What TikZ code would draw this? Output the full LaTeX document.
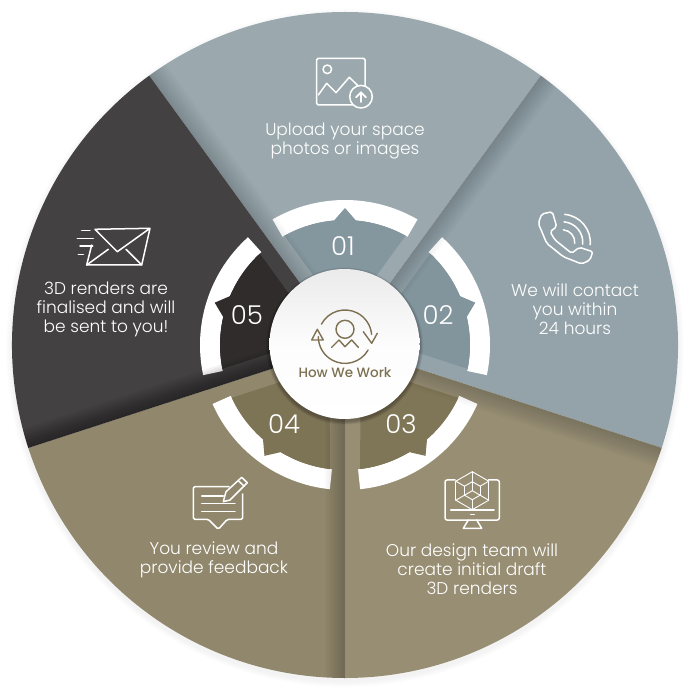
\documentclass[tikz,border=0pt]{standalone}
\usepackage{fontspec}
\setmainfont{Poppins}[UprightFont=* Light,BoldFont=* Medium]
\definecolor{secone}{HTML}{9BA9AE}
\definecolor{sectwo}{HTML}{94A3A9}
\definecolor{secthree}{HTML}{978E73}
\definecolor{secfour}{HTML}{90876D}
\definecolor{secfive}{HTML}{444142}
\definecolor{wedone}{HTML}{84969E}
\definecolor{wedtwo}{HTML}{82949C}
\definecolor{wedthree}{HTML}{7F7557}
\definecolor{wedfour}{HTML}{7D7355}
\definecolor{wedfive}{HTML}{2F2C2B}
\definecolor{brownline}{HTML}{7D7152}
\tikzset{
  imagepx/.style={shift={(-345,345)},y=-1pt},
  iconline/.style={draw=white,line width=1.5pt,line join=round,line cap=round},
  cubeline/.style={draw=white,line width=0.9pt,line join=round,line cap=round},
  brownicon/.style={draw=brownline,line width=1.4pt,line join=round,line cap=round},
  steptext/.style={text=white,align=center,font=\fontsize{17}{19}\selectfont},
  numtext/.style={text=white,font=\fontsize{26}{26}\selectfont}
}
\begin{document}
\begin{tikzpicture}[x=1pt,y=1pt]
    \useasboundingbox (-345,-355) rectangle (355,345);
    % faint shadow under the disc
    \foreach \r in {1,2,...,6}
        \fill[black,opacity=0.008] (0,-3) circle ({333+\r});

    % sectors, ring pieces and wedges, then the shadow of the neighbour
    \foreach \a/\secc/\wedc/\shad in {90/secone/wedone/0.015,18/sectwo/wedtwo/0.015,-54/secthree/wedthree/0.017,-126/secfour/wedfour/0.02,162/secfive/wedfive/0.045}{
        \fill[\secc] (0,0) -- (\a-36:333) arc[start angle=\a-36,end angle=\a+36,radius=333] -- cycle;
        \fill[white] (\a-30:145) arc[start angle=\a-30,end angle=\a+30,radius=145]
            -- (\a+30:125) arc[start angle=\a+30,end angle=\a-30,radius=125] -- cycle;
        \fill[\wedc] (\a:26) -- (\a-29:125) arc[start angle=\a-29,end angle=\a-5,radius=125]
            -- (\a:137) -- (\a+5:125) arc[start angle=\a+5,end angle=\a+29,radius=125] -- cycle;
        \begin{scope}
            \clip (0,0) -- (\a-36:333) arc[start angle=\a-36,end angle=\a+36,radius=333] -- cycle;
            \foreach \w in {2,4,...,20}
                \fill[black,opacity=\shad,rotate=\a+36] (0,-\w) rectangle (340,0);
        \end{scope}
    }

    % centre circle
    \foreach \r in {1,2,...,5}
        \fill[black,opacity=0.06] (-0.5,-1) circle ({75+\r*0.7});
    \shade[top color=black!8,bottom color=white,middle color=black!1] (-0.5,1) circle (75);

    \begin{scope}[imagepx]
        % numbers
        \foreach \x/\y/\n in {343/246/01,438/315/02,401/424/03,284/424/04,247/315/05}
            \node[numtext] (num\n) at (\x,\y) {\n};

        % step texts
        \node[steptext] (upload) at (345,140.5) {Upload your space\\photos or images};
        \node[steptext] (contact) at (575,309) {We will contact\\you within\\24 hours};
        \node[steptext] (design) at (472,569) {Our design team will\\create initial draft\\3D renders};
        \node[steptext] (review) at (214,559.7) {You review and\\provide feedback};
        \node[steptext] (finalise) at (106,309) {3D renders are\\finalised and will\\be sent to you!};
        \node[text=brownline,font=\fontsize{13.5}{13.5}\selectfont\bfseries] (howwework) at (345,373) {How We Work};

        % upload icon
        \draw[iconline,rounded corners=1.5] (316.7,58.3) rectangle (365,105);
        \draw[iconline] (327.3,69.3) circle (4.3);
        \draw[iconline] (318.3,95) -- (326.7,83.3) -- (336,92.7) -- (349.3,77.3) -- (358.3,86);
        \draw[iconline,fill=secone] (361,96.7) circle (11.3);
        \draw[iconline,line width=1.8pt] (356,97.3) -- (361,92.3) -- (366,97.3) (361,92.3) -- (361,102);

        % phone icon
        \draw[iconline,rounded corners=2] (541.7,214) -- (552.3,211.7) -- (556.7,226.7) -- (550,231.7) -- (555,240) -- (571.7,253.3) -- (579.3,247.3) -- (592.7,251.7) -- (590,260) -- (581.7,264) -- (563.3,256.7) -- (546.7,243.3) -- (538.3,223.3) -- cycle;
        \foreach \r in {12.5,20.5,28}
            \draw[iconline] ([shift={(562.3,242.3)}]-85:\r) arc[start angle=-85,end angle=5,radius=\r];

        % monitor icon
        \draw[iconline,rounded corners=2] (455,480) -- (445,480) -- (445,520) -- (499.3,520) -- (499.3,480) -- (488.3,480);
        \draw[iconline] (450.7,510) -- (494,510);
        \draw[iconline] (470.7,514.3) -- (474.3,514.3);
        \draw[iconline] (468.3,520) -- (463.3,528.3) -- (481.7,528.3) -- (476.7,520);
        \foreach \k in {30,90,...,330}{
            \draw[cubeline] ([shift={(472.3,490.7)}]\k:19) -- ([shift={(472.3,490.7)}]\k+60:19);
            \draw[cubeline] ([shift={(472.3,490.7)}]\k:9) -- ([shift={(472.3,490.7)}]\k+60:9);
            \draw[cubeline] ([shift={(472.3,490.7)}]\k:9) -- ([shift={(472.3,490.7)}]\k:19);
        }
        \foreach \k in {30,150,270}
            \draw[cubeline] (472.3,490.7) -- ([shift={(472.3,490.7)}]\k:9);

        % review icon
        \draw[iconline,rounded corners=1.5] (229,486.7) -- (193.3,486.7) -- (193.3,519.3) -- (208.3,519.3) -- (218.3,529.3) -- (227.3,519.3) -- (242.7,519.3) -- (242.7,494);
        \draw[iconline] (201.7,496) -- (223.3,496);
        \draw[iconline] (201.7,503.3) -- (235,503.3);
        \draw[iconline] (201.7,511.7) -- (235,511.7);
        \draw[iconline] (223.3,501.7) -- (226,491.7) -- (241.7,477.3) -- (247.3,482.7) -- (230,500) -- cycle;
        \draw[iconline] (238.3,480.7) -- (244,486);

        % envelope icon
        \draw[iconline] (91.7,245) -- (86.7,265) -- (141.7,265) -- (150,228.3) -- (95,229.3) -- (117.3,251.7) -- (150,228.3);
        \draw[iconline] (86.7,265) -- (108.3,249.3);
        \draw[iconline] (141.7,265) -- (126,249.3);
        \draw[iconline] (81.7,230.7) -- (90,230.7);
        \draw[iconline] (77.3,238.3) -- (93.3,238.3);
        \draw[iconline] (80,246) -- (92.7,246);
        \draw[iconline] (78.3,254.3) -- (83.3,254.3);

        % centre icon
        \draw[brownicon] (345,329.3) circle (9);
        \draw[brownicon] (331.7,347.3) -- (339,340) -- (345,346.7) -- (351.7,340) -- (358.3,347.3);
        \draw[brownicon] ([shift={(345,336.7)}]-152:26.7) arc[start angle=-152,end angle=-5,radius=26.7];
        \draw[brownicon] ([shift={(345,336.7)}]30:26.7) arc[start angle=30,end angle=180,radius=26.7];
        \draw[brownicon] (363.3,331.7) -- (371.7,343.3) -- (377.3,333.3);
        \draw[brownicon] (311.7,340) -- (317.3,329.3) -- (323.3,340) -- cycle;
    \end{scope}
\end{tikzpicture}
\end{document}
